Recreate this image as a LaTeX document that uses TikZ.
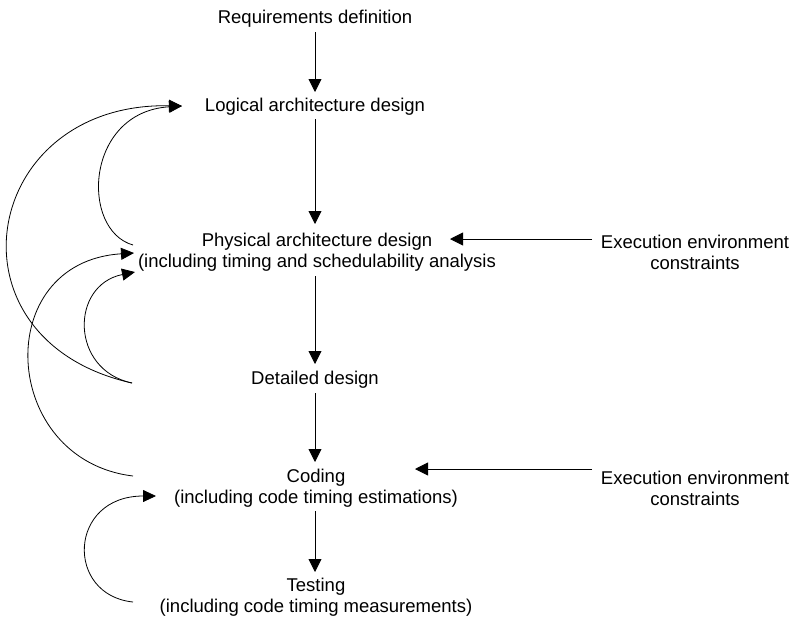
\documentclass[tikz,border=0pt]{standalone}
\usepackage{fontspec}
\setmainfont{Liberation Sans}
\usetikzlibrary{arrows.meta}
\begin{document}
\begin{tikzpicture}[x=1pt,y=-1pt,
  lbl/.style={inner sep=0pt,align=center,font=\fontsize{18.5}{21}\selectfont},
  arr/.style={line width=0.9pt,-{Triangle[length=13pt,width=13pt]}},
  crv/.style={line width=0.8pt,-{Triangle[length=13pt,width=12pt]}}]
\useasboundingbox (0,0) rectangle (793,622);
\node[lbl] (req) at (315,19) {Requirements definition};
\node[lbl] (log) at (315,107) {Logical architecture design};
\node[lbl] (phy) at (317,252) {Physical architecture design\\(including timing and schedulability analysis};
\node[lbl] (det) at (315,380) {Detailed design};
\node[lbl] (cod) at (316,488) {Coding\\(including code timing estimations)};
\node[lbl] (tst) at (316,597) {Testing\\(including code timing measurements)};
\node[lbl] (ee1) at (695,252) {Execution environment\\constraints};
\node[lbl] (ee2) at (695,488) {Execution environment\\constraints};
\coordinate (a1) at (315,32); \coordinate (b1) at (315,92);
\coordinate (a2) at (315,119); \coordinate (b2) at (315,224);
\coordinate (a3) at (315,276); \coordinate (b3) at (315,364);
\coordinate (a4) at (315,393); \coordinate (b4) at (315,462);
\coordinate (a5) at (315,511); \coordinate (b5) at (315,572);
\draw[arr] (a1) -- (b1);
\draw[arr] (a2) -- (b2);
\draw[arr] (a3) -- (b3);
\draw[arr] (a4) -- (b4);
\draw[arr] (a5) -- (b5);
\coordinate (e1s) at (592,239); \coordinate (e1t) at (450,239);
\coordinate (e2s) at (592,469); \coordinate (e2t) at (415,469);
\draw[arr] (e1s) -- (e1t);
\draw[arr] (e2s) -- (e2t);
% feedback curves
\coordinate (login) at (182,106);
\coordinate (phyin1) at (134,253);
\coordinate (phyin2) at (135,272);
\coordinate (codin) at (156,496);
\coordinate (phyout) at (133,245);
\coordinate (detout) at (132,383);
\coordinate (codout) at (133,476);
\coordinate (tstout) at (133,602);
\draw[crv] (phyout) .. controls (80,230) and (85,112) .. (login);
\draw[crv] (detout) .. controls (-60,340) and (-20,102) .. (login);
\draw[crv] (codout) .. controls (0,460) and (-10,262) .. (phyin1);
\draw[crv] (detout) .. controls (70,370) and (70,285) .. (phyin2);
\draw[crv] (tstout) .. controls (65,595) and (68,496) .. (codin);
\end{tikzpicture}
\end{document}
